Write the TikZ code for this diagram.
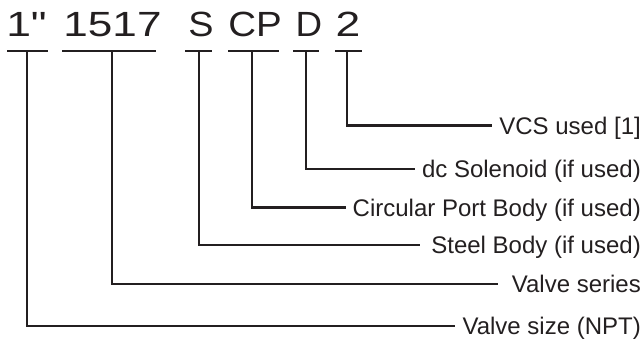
\documentclass[tikz,border=0pt]{standalone}
\usepackage{fontspec}
\setmainfont{Liberation Sans}
\usetikzlibrary{positioning}
\definecolor{ink}{RGB}{35,31,32}

\tikzset{
  code/.style={font=\fontsize{35}{35}\selectfont, text=ink, inner sep=0pt, anchor=base},
  part/.style={font=\fontsize{24}{28}\selectfont, text=ink, inner sep=0pt, anchor=east,
               text height=17.2pt, text depth=0pt},
  rule/.style={line width=2.6pt, ink},
  lead/.style={rule, shorten >=7pt}
}

\begin{document}
\begin{tikzpicture}[x=1pt, y=-1pt]
  \useasboundingbox (0,0) rectangle (644,339);

  % Part number
  \node[code] (size)   at (26.5,37) {\scalebox{1.27}[1]{1\textquotedbl}};
  \node[code] (series) at (112.5,37) {\scalebox{1.26}[1]{1517}};
  \node[code] (steel)  at (201,37) {\scalebox{1.08}[1]{S}};
  \node[code] (port)   at (255,37) {\scalebox{1.1}[1]{CP}};
  \node[code] (sol)    at (309,37) {\scalebox{1.05}[1]{D}};
  \node[code] (vcs)    at (348,37) {\scalebox{1.27}[1]{2}};

  % Underlines
  \draw[rule] (7,51) -- (48,51);
  \draw[rule] (62,51) -- (156,51);
  \draw[rule] (185,51) -- (212,51);
  \draw[rule] (228,51) -- (279,51);
  \draw[rule] (293,51) -- (319,51);
  \draw[rule] (335,51) -- (362,51);

  % Stem tops
  \coordinate (tsize)   at (27,51);
  \coordinate (tseries) at (112,51);
  \coordinate (tsteel)  at (199,51);
  \coordinate (tport)   at (252,51);
  \coordinate (tsol)    at (306,51);
  \coordinate (tvcs)    at (347,51);

  % Labels
  \node[part] (lvcs)    at (641,125.5) {VCS used [1]};
  \node[part] (lsol)    at (641,169)   {dc Solenoid (if used)};
  \node[part] (lport)   at (641,207.5) {Circular Port Body (if used)};
  \node[part] (lsteel)  at (641,245)   {Steel Body (if used)};
  \node[part] (lseries) at (641,284)   {Valve series};
  \node[part] (lsize)   at (641,326)   {Valve size (NPT)};

  % Leaders
  \draw[lead] (tvcs) |- (lvcs.west);
  \draw[lead] (tsol) |- (lsol.west);
  \draw[lead] (tport) |- (lport.west);
  \draw[lead, shorten >=11pt] (tsteel) |- (lsteel.west);
  \draw[lead, shorten >=14pt] (tseries) |- (lseries.west);
  \draw[lead] (tsize) |- (lsize.west);

\end{tikzpicture}
\end{document}
